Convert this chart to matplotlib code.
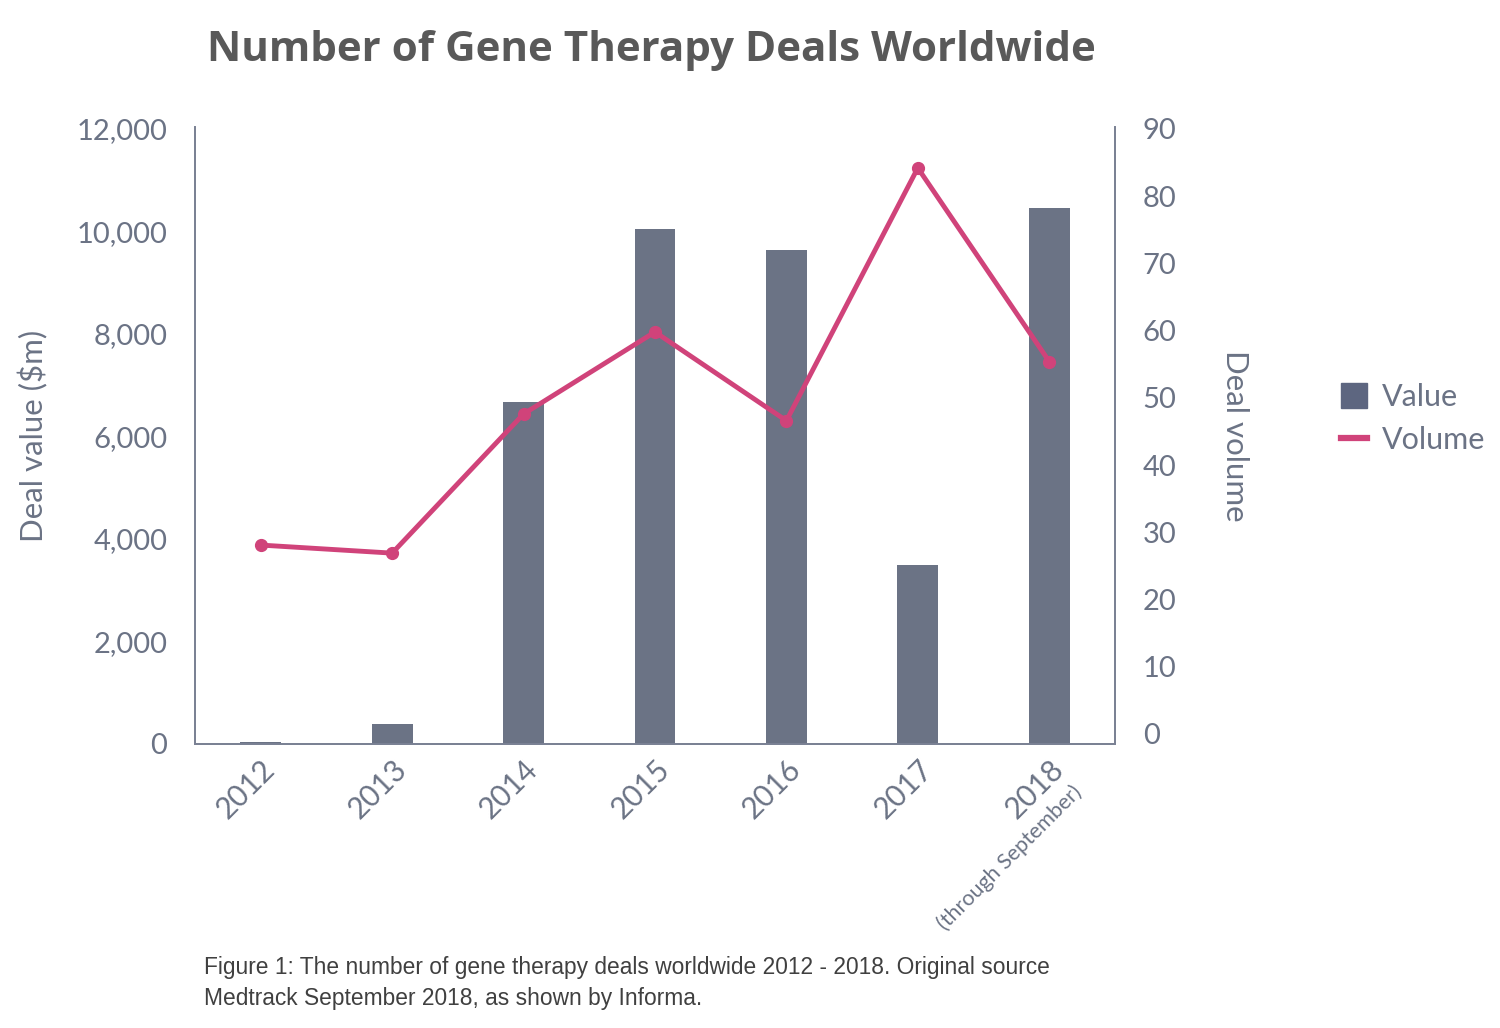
import numpy as np
import matplotlib
matplotlib.use('Agg')
from matplotlib import pyplot as plt
from matplotlib.lines import Line2D
from matplotlib.patches import Patch

years = ['2012', '2013', '2014', '2015', '2016', '2017', '2018']
deal_value = [40, 390, 6670, 10050, 9640, 3490, 10460]  # $m
deal_volume = [28.1, 26.9, 47.6, 59.8, 46.6, 84.2, 55.4]

bar_color = '#6b7385'
line_color = '#d0437a'
text_color = '#6b7385'
font = 'Lato'

plt.rcParams['font.family'] = [font, 'DejaVu Sans']

fig = plt.figure(figsize=(15, 10.28), dpi=100)
ax = fig.add_axes([0.13, 0.2763, 0.6133, 0.6002])
x = np.arange(len(years))

ax.bar(x, deal_value, width=0.31, color=bar_color, zorder=2)
ax.set_xlim(-0.5, 6.5)
ax.set_ylim(0, 12040)
ax.set_yticks(np.arange(0, 12001, 2000))
ax.set_yticklabels([f'{v:,}' for v in range(0, 12001, 2000)])
ax.set_xticks(x)
ax.set_xticklabels(years, rotation=45, ha='right', va='top', rotation_mode='anchor')
ax.tick_params(axis='both', length=0, labelsize=21, colors=text_color)
ax.tick_params(axis='y', pad=20)
ax.tick_params(axis='x', labelsize=21.5, pad=8)
ax.spines['top'].set_visible(False)
for s in ['left', 'bottom', 'right']:
    ax.spines[s].set_color('#7a8194')
    ax.spines[s].set_linewidth(1.3)
ax.set_ylabel('Deal value ($m)', fontsize=22.5, color=text_color, labelpad=20)

ax2 = ax.twinx()
ax2.plot(x, deal_volume, color=line_color, lw=3.5, marker='o', ms=8.5, zorder=3)
ax2.set_ylim(-1.49, 90.3)
ax2.set_yticks(np.arange(0, 91, 10))
ax2.tick_params(axis='y', length=0, labelsize=21, colors=text_color, pad=20)
ax2.spines['top'].set_visible(False)
for s in ['left', 'bottom', 'right']:
    ax2.spines[s].set_color('#7a8194')
    ax2.spines[s].set_linewidth(1.3)
ax2.set_ylabel('Deal volume', fontsize=22.5, color=text_color, rotation=270,
               labelpad=52)

fig.text(0.673, 0.166, '(through September)', fontsize=15.5, color=text_color,
         rotation=45, ha='center', va='center')

handles = [Patch(facecolor='#5d6680', edgecolor='#5d6680'),
           Line2D([0], [0], color=line_color, lw=4.5)]
fig.legend(handles, ['Value', 'Volume'], loc='center left',
           bbox_to_anchor=(0.894, 0.593), frameon=False, fontsize=22,
           labelcolor=text_color, handlelength=0.85, handleheight=0.9,
           handletextpad=0.5, labelspacing=0.5, borderaxespad=0, borderpad=0)

fig.text(0.434, 0.951, 'Number of Gene Therapy Deals Worldwide', fontsize=30.3,
         fontweight='bold', color='#595959', ha='center', va='center',
         family='Open Sans')
fig.text(0.136, 0.0435, 'Figure 1: The number of gene therapy deals worldwide 2012 - 2018. Original source\n'
         'Medtrack September 2018, as shown by Informa.', fontsize=16.4,
         color='#404040', ha='left', va='center', linespacing=1.45,
         family='Liberation Sans')

fig.savefig('out.png', dpi=100)
